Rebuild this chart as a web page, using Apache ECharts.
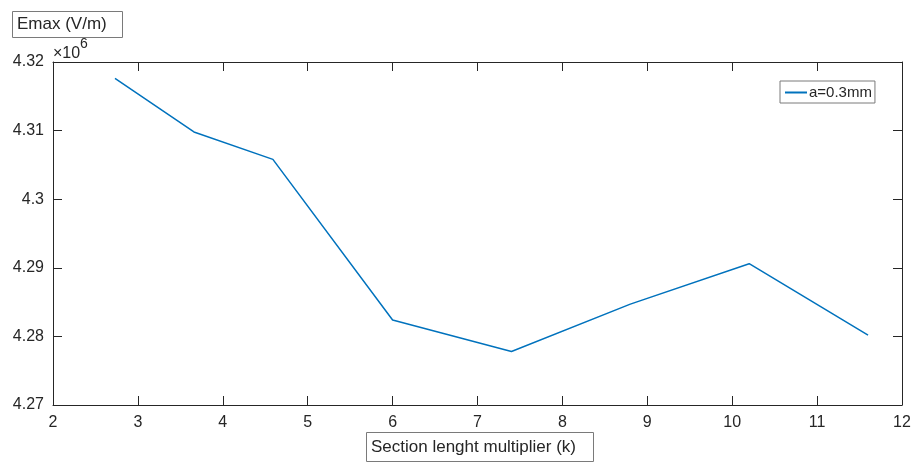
<!DOCTYPE html>
<html>
<head>
<meta charset="utf-8">
<script src="https://cdn.jsdelivr.net/npm/echarts@6/dist/echarts.min.js"></script>
<style>
  html, body { margin: 0; padding: 0; background: #fff; }
  #chart { width: 919px; height: 463px; }
</style>
</head>
<body>
<div id="chart"></div>
<script>
  // section length multiplier k
  const kValues = [2.73, 3.66, 4.59, 6.0, 7.4, 8.8, 10.2, 11.6];
  // Emax in V/m
  const emaxValues = [4317600, 4309800, 4305800, 4282400, 4277800, 4284700, 4290600, 4280200];
  const seriesName = 'a=0.3mm';
  const yTitle = 'Emax (V/m)';
  const xTitle = 'Section lenght multiplier (k)';

  const axisColor = '#262626';
  const font = 'Arial, "Liberation Sans", sans-serif';

  const chart = echarts.init(document.getElementById('chart'));

  const mirrorAxis = {
    axisLine: { show: true, lineStyle: { color: axisColor, width: 1 } },
    axisTick: { show: true, inside: true, length: 9, lineStyle: { color: axisColor } },
    axisLabel: { show: false },
    splitLine: { show: false }
  };

  const option = {
    animation: false,
    title: [
      {
        text: yTitle,
        left: 12, top: 11,
        padding: [4, 16, 4, 5],
        borderColor: '#7a7a7a', borderWidth: 1,
        textStyle: { fontFamily: font, fontSize: 17, fontWeight: 'normal', color: axisColor, lineHeight: 19 }
      },
      {
        text: xTitle,
        left: 366, top: 432,
        padding: [5, 18, 5, 5],
        borderColor: '#7a7a7a', borderWidth: 1,
        textStyle: { fontFamily: font, fontSize: 17, fontWeight: 'normal', color: axisColor, lineHeight: 20 }
      }
    ],
    legend: {
      left: 780, top: 81,
      padding: [4, 3, 3, 5],
      borderColor: '#7a7a7a', borderWidth: 1,
      backgroundColor: '#fff',
      icon: 'rect',
      itemWidth: 22, itemHeight: 2,
      textStyle: { fontFamily: font, fontSize: 15, color: axisColor, padding: [0, 0, 0, -3] },
      data: [seriesName]
    },
    grid: { left: 53, right: 17, top: 62, bottom: 58 },
    xAxis: [
      {
        type: 'value', min: 2, max: 12, interval: 1,
        axisLine: { show: true, lineStyle: { color: axisColor, width: 1 } },
        axisTick: { show: true, inside: true, length: 9, lineStyle: { color: axisColor } },
        axisLabel: { color: axisColor, fontFamily: font, fontSize: 16, margin: 10 },
        splitLine: { show: false }
      },
      Object.assign({ type: 'value', min: 2, max: 12, interval: 1, position: 'top' }, mirrorAxis)
    ],
    yAxis: [
      {
        type: 'value', min: 4270000, max: 4320000, interval: 10000,
        axisLine: { show: true, lineStyle: { color: axisColor, width: 1 } },
        axisTick: { show: true, inside: true, length: 9, lineStyle: { color: axisColor } },
        axisLabel: {
          color: axisColor, fontFamily: font, fontSize: 16, margin: 9,
          formatter: v => String(+(v / 1e6).toFixed(2))
        },
        splitLine: { show: false }
      },
      Object.assign({ type: 'value', min: 4270000, max: 4320000, interval: 10000, position: 'right' }, mirrorAxis)
    ],
    graphic: [
      { type: 'text', style: { text: '×10', x: 53, y: 46, font: '16px ' + font, fill: axisColor, verticalAlign: 'top' } },
      { type: 'text', style: { text: '6', x: 80, y: 37, font: '14px ' + font, fill: axisColor, verticalAlign: 'top' } }
    ],
    series: [
      {
        name: seriesName,
        type: 'line',
        symbol: 'none',
        data: kValues.map((k, i) => [k, emaxValues[i]]),
        lineStyle: { color: '#0072BD', width: 1.5 },
        itemStyle: { color: '#0072BD' }
      }
    ]
  };

  chart.setOption(option);
</script>
</body>
</html>
